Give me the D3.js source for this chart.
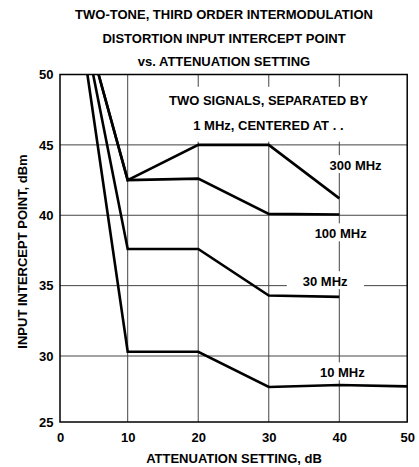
<!DOCTYPE html>
<html>
<head>
<meta charset="utf-8">
<script src="https://cdn.jsdelivr.net/npm/d3@7"></script>
<style>
  html, body { margin: 0; padding: 0; background: #fff; }
  svg { display: block; font-family: "Liberation Sans", Arial, Helvetica, sans-serif; font-weight: bold; }
</style>
</head>
<body>
<svg id="chart" width="419" height="467"></svg>
<script>
// ---- data ----
const titleLines = ["TWO-TONE, THIRD ORDER INTERMODULATION", "DISTORTION INPUT INTERCEPT POINT", "vs. ATTENUATION SETTING"];
const xLabel = "ATTENUATION SETTING, dB";
const yLabel = "INPUT INTERCEPT POINT, dBm";
const xTicks = [0, 10, 20, 30, 40, 50];
const yTicks = [25, 30, 35, 40, 45, 50];

const seriesNames = ["300 MHz", "100 MHz", "30 MHz", "10 MHz"];
const atten300 = [5.7, 10, 20, 30, 40];
const ip300    = [50, 42.5, 45.0, 45.0, 41.2];
const atten100 = [5.7, 10, 20, 30, 40];
const ip100    = [50, 42.5, 42.6, 40.1, 40.05];
const atten30  = [4.9, 10, 20, 30, 40];
const ip30     = [50, 37.6, 37.6, 34.3, 34.2];
const atten10  = [4.05, 10, 20, 30, 40, 50];
const ip10     = [50, 30.3, 30.3, 27.65, 27.8, 27.7];

// series label anchors (in data units: dB, dBm)
const labelAtten = [42.4, 40.2, 38.0, 40.45];
const labelIP    = [43.25, 38.4, 35.0, 28.43];

const noteLines = ["TWO SIGNALS, SEPARATED BY", "1 MHz, CENTERED AT . ."];
const noteAtten = 29.95;
const noteIP    = [47.85, 46.08];

// ---- layout ----
const svg = d3.select("#chart");
const x = d3.scaleLinear().domain([0, 10, 40, 50]).range([60, 127.7, 339.3, 407.2]);
const y = d3.scaleLinear().domain([25, 30, 50]).range([422, 356, 74.5]);
const FS = 13;

// title
svg.append("g").selectAll("text").data(titleLines).join("text")
  .attr("x", 224).attr("y", (d, i) => 19 + i * 23.7)
  .attr("text-anchor", "middle").attr("font-size", FS).text(d => d);

// grid
const grid = svg.append("g").attr("stroke", "#444").attr("stroke-width", 1);
grid.selectAll("line.v").data(xTicks.slice(1, -1)).join("line")
  .attr("x1", d => x(d)).attr("x2", d => x(d)).attr("y1", y(50)).attr("y2", y(25));
grid.selectAll("line.h").data(yTicks.slice(1, -1)).join("line")
  .attr("y1", d => y(d)).attr("y2", d => y(d)).attr("x1", x(0)).attr("x2", x(50));

// curves
const line = d3.line().x(d => x(d[0])).y(d => y(d[1]));
const series = [
  d3.zip(atten300, ip300), d3.zip(atten100, ip100),
  d3.zip(atten30, ip30), d3.zip(atten10, ip10)
];
svg.append("g").selectAll("path").data(series).join("path")
  .attr("d", line).attr("fill", "none").attr("stroke", "#000")
  .attr("stroke-width", 2.6).attr("stroke-linejoin", "miter");

// labels with white boxes
function boxedText(g, txt, cx, baseline, padX, padTop, padBot) {
  const t = g.append("text").attr("x", cx).attr("y", baseline)
    .attr("text-anchor", "middle").attr("font-size", FS).text(txt);
  const bb = t.node().getBBox();
  g.insert("rect", "text")
    .attr("x", bb.x - padX).attr("width", bb.width + 2 * padX)
    .attr("y", baseline - 9.4 - padTop).attr("height", 9.4 + padTop + padBot)
    .attr("fill", "#fff");
}
const lab = svg.append("g");
const padXs = [3, 3, 16, 3];
seriesNames.forEach((n, i) => {
  const g = lab.append("g");
  boxedText(g, n, x(labelAtten[i]), y(labelIP[i]), padXs[i], 5, 3.5);
});

// note box
const ng = svg.append("g");
const nts = noteLines.map((t, i) => ng.append("text").attr("x", x(noteAtten)).attr("y", y(noteIP[i]))
  .attr("text-anchor", "middle").attr("font-size", FS).text(t));
const b0 = nts[0].node().getBBox(), b1 = nts[1].node().getBBox();
ng.insert("rect", "text")
  .attr("x", Math.min(b0.x, b1.x) - 4).attr("width", Math.max(b0.width, b1.width) + 8)
  .attr("y", y(noteIP[0]) - 18).attr("height", y(noteIP[1]) - y(noteIP[0]) + 30)
  .attr("fill", "#fff");

// frame
svg.append("rect").attr("x", x(0)).attr("y", y(50))
  .attr("width", x(50) - x(0)).attr("height", y(25) - y(50))
  .attr("fill", "none").attr("stroke", "#000").attr("stroke-width", 1.5);

// axes
const yAxis = svg.append("g").attr("transform", `translate(${x(0)},0)`)
  .call(d3.axisLeft(y).tickValues(yTicks).tickSize(0).tickPadding(6.5).tickFormat(d3.format("d")));
const xAxis = svg.append("g").attr("transform", `translate(0,${y(25)})`)
  .call(d3.axisBottom(x).tickValues(xTicks).tickSize(0).tickPadding(10.5).tickFormat(d3.format("d")));
[yAxis, xAxis].forEach(a => {
  a.select(".domain").remove();
  a.selectAll("text").attr("font-size", FS).attr("font-family", null).attr("fill", "#000");
  a.attr("font-family", null).attr("font-size", null);
});

// axis titles
svg.append("text").attr("x", 234).attr("y", 463).attr("text-anchor", "middle")
  .attr("font-size", FS).text(xLabel);
svg.append("text").attr("transform", "translate(26.5,251.5) rotate(-90)")
  .attr("text-anchor", "middle").attr("font-size", FS).text(yLabel);
</script>
</body>
</html>
